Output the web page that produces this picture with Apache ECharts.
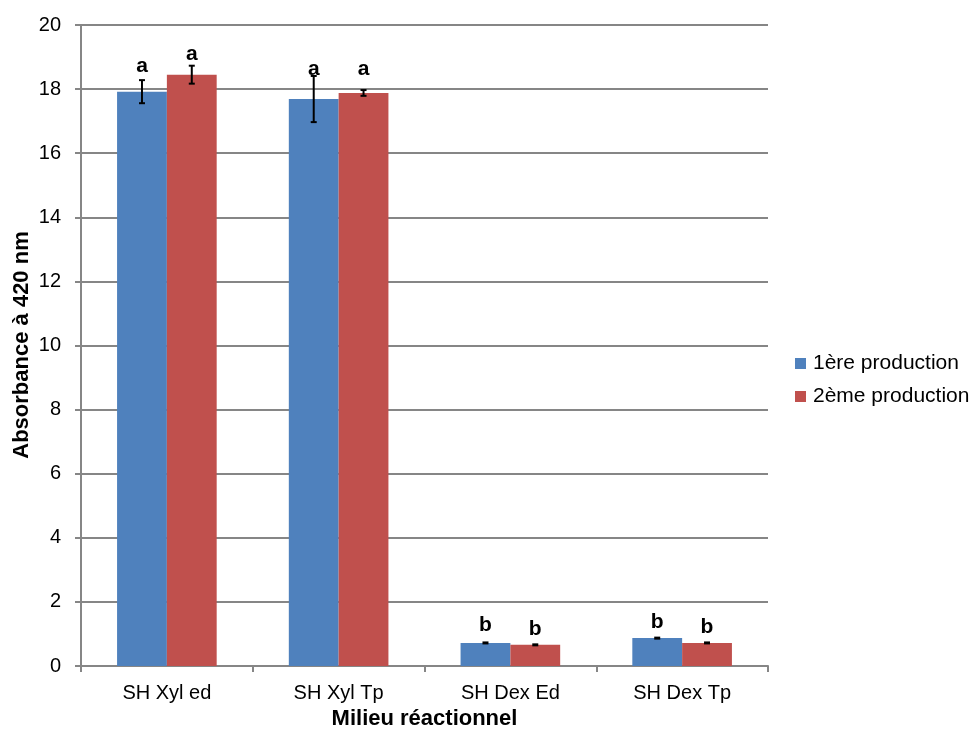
<!DOCTYPE html>
<html><head><meta charset="utf-8">
<script src="https://cdn.jsdelivr.net/npm/echarts@6/dist/echarts.min.js"></script>
<style>html,body{margin:0;padding:0;background:#fff}#c{width:970px;height:731px}</style>
</head><body><div id="c"></div>
<script>
var categories = ['SH Xyl ed', 'SH Xyl Tp', 'SH Dex Ed', 'SH Dex Tp'];
var seriesNames = ['1ère production', '2ème production'];
var prod1 = [17.92, 17.69, 0.72, 0.87];
var prod2 = [18.45, 17.88, 0.66, 0.72];
var err1 = [0.36, 0.72, 0.0, 0.02];
var err2 = [0.28, 0.09, 0.02, 0.02];
var letters1 = ['a', 'a', 'b', 'b'];
var letters2 = ['a', 'a', 'b', 'b'];
var yTicks = [0, 2, 4, 6, 8, 10, 12, 14, 16, 18, 20];
var yTitle = 'Absorbance à 420 nm';
var xTitle = 'Milieu réactionnel';

var labelDist1 = [15, 19, 7, 5];
var labelDist2 = [10, 13, 5, 5];
var FONT = '"Liberation Sans", Arial, sans-serif';
var colors = ['#4F81BD', '#C0504D'];

function barSeries(i, vals, letters, dists) {
  return {
    name: seriesNames[i], type: 'bar', barGap: '0%', barCategoryGap: '42%',
    itemStyle: { color: colors[i] },
    data: vals.map(function (v, k) {
      return { value: v, label: { show: true, position: 'top', distance: dists[k],
        formatter: letters[k], color: '#000', fontFamily: FONT, fontSize: 21, fontWeight: 'bold' } };
    }),
    z: 2
  };
}
function errSeries(vals, errs, side) {
  return {
    type: 'custom', silent: true, z: 5,
    data: vals.map(function (v, k) { return [k, v - errs[k], v + errs[k]]; }),
    renderItem: function (params, api) {
      var band = api.size([1, 0])[0];
      var x = api.coord([api.value(0), 0])[0] + side * band * 0.145;
      var lo = api.coord([api.value(0), api.value(1)])[1];
      var hi = api.coord([api.value(0), api.value(2)])[1];
      var st = { stroke: '#000', lineWidth: 2 };
      if (Math.abs(hi - lo) < 2) {
        return { type: 'rect', shape: { x: x - 3, y: (hi + lo) / 2 - 1.5, width: 6, height: 3 }, style: { fill: '#000' } };
      }
      return { type: 'group', children: [
        { type: 'line', shape: { x1: x, y1: lo, x2: x, y2: hi }, style: st },
        { type: 'line', shape: { x1: x - 3, y1: lo, x2: x + 3, y2: lo }, style: st },
        { type: 'line', shape: { x1: x - 3, y1: hi, x2: x + 3, y2: hi }, style: st }
      ] };
    }
  };
}

var chart = echarts.init(document.getElementById('c'), null, { renderer: 'canvas' });
chart.setOption({
  animation: false,
  textStyle: { fontFamily: FONT },
  grid: { left: 81, right: 202, top: 25, bottom: 65, containLabel: false, outerBoundsMode: 'none' },
  graphic: [{
    type: 'text', x: 22, y: 345, rotation: Math.PI / 2, z: 10,
    style: { text: yTitle, font: 'bold 22px ' + FONT, fill: '#000', align: 'center', verticalAlign: 'middle' }
  }],
  legend: {
    orient: 'vertical', left: 790, top: 348, itemWidth: 11, itemHeight: 11, itemGap: 12,
    data: seriesNames, icon: 'rect',
    textStyle: { fontFamily: FONT, fontSize: 21, color: '#000', padding: [0, 0, 0, 2] }
  },
  xAxis: {
    type: 'category', data: categories,
    name: xTitle, nameLocation: 'middle', nameGap: 41,
    nameTextStyle: { fontFamily: FONT, fontSize: 22, fontWeight: 'bold', color: '#000' },
    axisLine: { lineStyle: { color: '#868686', width: 2 } },
    axisTick: { show: true, length: 6, lineStyle: { color: '#868686', width: 2 } },
    axisLabel: { margin: 17, fontFamily: FONT, fontSize: 20, color: '#000' }
  },
  yAxis: {
    type: 'value', min: 0, max: 20, interval: 2,
    axisLine: { show: true, lineStyle: { color: '#868686', width: 2 } },
    axisTick: { show: true, length: 6, lineStyle: { color: '#868686', width: 2 } },
    axisLabel: { margin: 20, fontFamily: FONT, fontSize: 20, color: '#000',
      formatter: function (v) { return yTicks.indexOf(v) >= 0 ? String(v) : ''; } },
    splitLine: { lineStyle: { color: '#868686', width: 2 } }
  },
  series: [
    barSeries(0, prod1, letters1, labelDist1),
    barSeries(1, prod2, letters2, labelDist2),
    errSeries(prod1, err1, -1),
    errSeries(prod2, err2, 1)
  ]
});
</script></body></html>
